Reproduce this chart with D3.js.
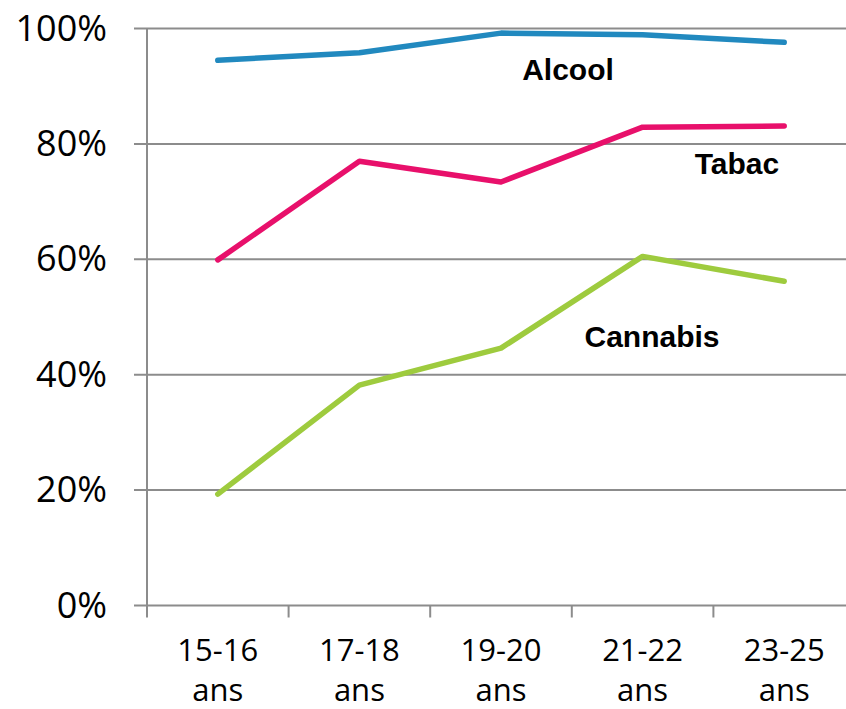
<!DOCTYPE html>
<html><head><meta charset="utf-8">
<script src="https://cdn.jsdelivr.net/npm/d3@7"></script>
<style>body{margin:0;background:#fff;overflow:hidden}svg{display:block}</style>
</head><body><svg id="c" width="846" height="709"></svg>
<script>
const categories = ["15-16 ans","17-18 ans","19-20 ans","21-22 ans","23-25 ans"];
const alcool = [94.5, 95.8, 99.2, 98.9, 97.6];
const tabac = [59.9, 77.0, 73.4, 82.9, 83.1];
const cannabis = [19.3, 38.2, 44.6, 60.5, 56.2];
const yTicks = [0, 20, 40, 60, 80, 100];
const seriesNames = ["Alcool","Tabac","Cannabis"];
const seriesColors = ["#2189BF","#E8106B","#9ECB3E"];

(function(){
const svg = d3.select("#c");
const mLeft = 147, mRight = 855, mTop = 28.5, mBottom = 605.5;
const x = d3.scaleBand().domain(categories).range([mLeft, mRight]);
const y = d3.scaleLinear().domain([0, 100]).range([mBottom, mTop]);
const grid = "#8c8c8c";

svg.append("g").selectAll("line").data(yTicks).join("line")
  .attr("x1", mLeft - 13).attr("x2", mRight)
  .attr("y1", d => y(d)).attr("y2", d => y(d))
  .attr("stroke", grid).attr("stroke-width", 2);
svg.append("line").attr("x1", mLeft).attr("x2", mLeft).attr("y1", mTop).attr("y2", mBottom)
  .attr("stroke", grid).attr("stroke-width", 2);
svg.append("g").selectAll("line").data(categories).join("line")
  .attr("x1", d => x(d)).attr("x2", d => x(d))
  .attr("y1", mBottom).attr("y2", mBottom + 12)
  .attr("stroke", grid).attr("stroke-width", 2);

svg.append("g").selectAll("text").data(yTicks).join("text")
  .attr("x", 107).attr("y", d => y(d) + 12)
  .attr("text-anchor", "end")
  .attr("font-family", "Open Sans, sans-serif").attr("font-size", 36).attr("fill", "#000")
  .text(d => d + "%");

const xg = svg.append("g");
categories.forEach(d => {
  const parts = d.split(" ");
  const cx = x(d) + x.bandwidth()/2;
  xg.append("text").attr("x", cx).attr("y", 661).attr("text-anchor", "middle")
    .attr("font-family", "Open Sans, sans-serif").attr("font-size", 31).attr("fill", "#000")
    .text(parts[0]);
  xg.append("text").attr("x", cx).attr("y", 701).attr("text-anchor", "middle")
    .attr("font-family", "Open Sans, sans-serif").attr("font-size", 31).attr("fill", "#000")
    .text(parts[1]);
});

const data = [alcool, tabac, cannabis];
const line = d3.line().x((d,i) => x(categories[i]) + x.bandwidth()/2).y(d => y(d));
svg.append("g").selectAll("path").data(data).join("path")
  .attr("d", line).attr("fill", "none")
  .attr("stroke", (d,i) => seriesColors[i]).attr("stroke-width", 5.5)
  .attr("stroke-linecap", "round").attr("stroke-linejoin", "round");

const labelPos = [[568, 80], [737, 174], [652, 347]];
svg.append("g").selectAll("text").data(seriesNames).join("text")
  .attr("x", (d,i) => labelPos[i][0]).attr("y", (d,i) => labelPos[i][1])
  .attr("text-anchor", "middle")
  .attr("font-family", "Liberation Sans, Arial, sans-serif").attr("font-weight", "bold")
  .attr("font-size", 30).attr("fill", "#000")
  .text(d => d);
})();
</script></body></html>
